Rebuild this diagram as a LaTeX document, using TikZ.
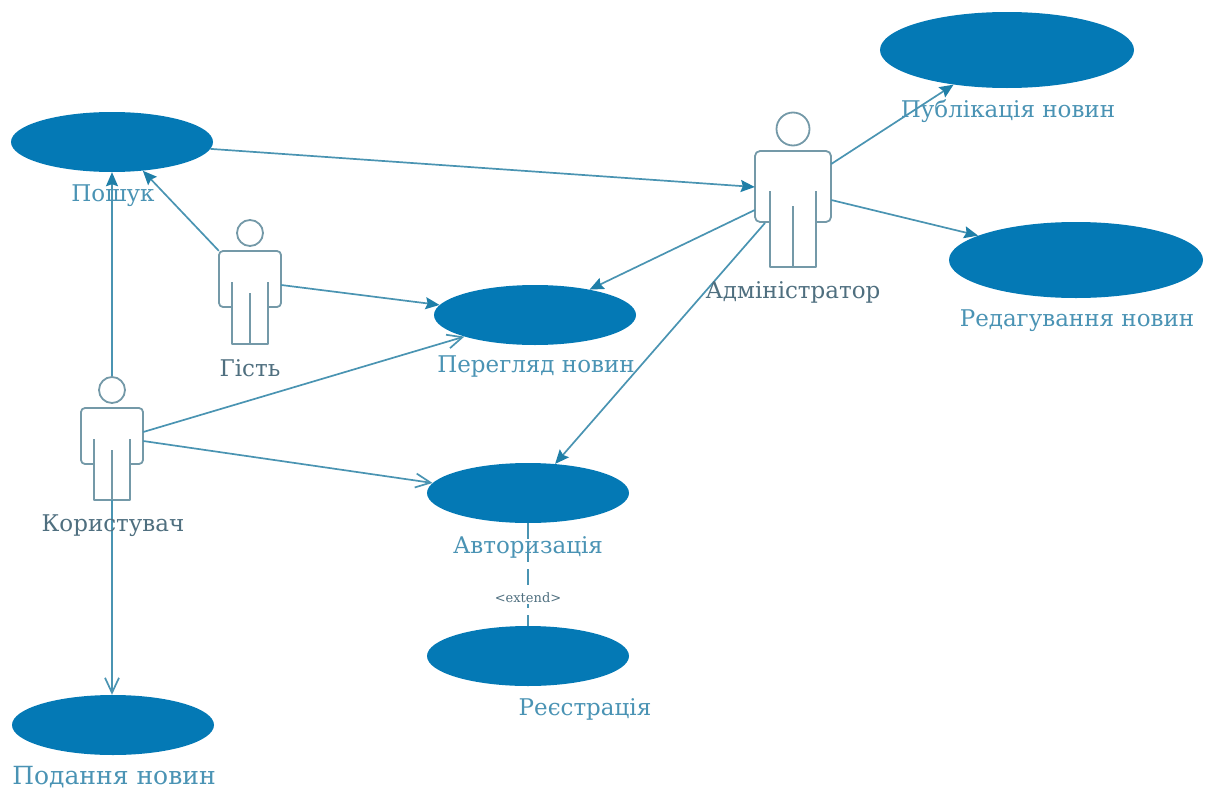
\documentclass[tikz,border=0pt]{standalone}
\usepackage{fontspec}
\setmainfont{DejaVu Serif}
\usetikzlibrary{shapes.geometric,arrows.meta}
\definecolor{ucfill}{HTML}{0479B5}
\definecolor{uctext}{HTML}{4A93B4}
\definecolor{acttext}{HTML}{4F6F7F}
\definecolor{actline}{HTML}{7499A8}
\definecolor{conn}{HTML}{4A94B2}
\definecolor{tipcol}{HTML}{1F7FA8}
\tikzset{
  usecase/.style={ellipse,fill=ucfill,draw=none,inner sep=0pt,minimum width=202pt,minimum height=60pt},
  bigcase/.style={usecase,minimum width=254pt,minimum height=76pt},
  uclabel/.style={text=uctext,font=\fontsize{23}{26}\selectfont,inner sep=0pt},
  actlabel/.style={text=acttext,font=\fontsize{23}{26}\selectfont,inner sep=0pt},
  actorbox/.style={inner sep=0pt,draw=none},
  actorline/.style={draw=actline,line width=1.8pt,line join=round},
  conn/.style={draw=conn,line width=1.7pt},
  solidtip/.style={conn,-{Stealth[length=14pt,width=12pt,inset=2pt,color=tipcol]}},
  opentip/.style={conn,-{Straight Barb[length=15pt,width=14pt]}},
}
\begin{document}
\begin{tikzpicture}[x=1pt,y=-1pt]
\useasboundingbox (0,0) rectangle (1211,790);
\node[usecase] (poshuk) at (112,142) {};
\node[usecase] (pereglyad) at (535,315) {};
\node[usecase] (avtor) at (528,493) {};
\node[usecase] (reestr) at (528,656) {};
\node[usecase] (podannya) at (113,725) {};
\node[bigcase] (publik) at (1007,50) {};
\node[bigcase] (redag) at (1076,260) {};

% actors: named box over the body, named circle as head
\node[actorbox,minimum width=62pt,minimum height=93pt] (guest) at (250,297.5) {};
\node[actorbox,minimum width=62pt,minimum height=92pt] (user) at (112,454) {};
\node[actorbox,minimum width=76pt,minimum height=116pt] (admin) at (793,209) {};
\node[circle,draw=actline,line width=1.8pt,minimum size=26pt,inner sep=0pt] (guesthead) at (250,233) {};
\node[circle,draw=actline,line width=1.8pt,minimum size=26pt,inner sep=0pt] (userhead) at (112,390) {};
\node[circle,draw=actline,line width=1.8pt,minimum size=33pt,inner sep=0pt] (adminhead) at (793,129) {};
\coordinate (adminhip) at (765,223);

\draw[actorline,rounded corners=4pt] (232,307) -- (219,307) -- (219,251) -- (281,251) -- (281,307) -- (268,307);
\draw[actorline] (232,282) -- (232,344) -- (268,344) -- (268,282) (250,293) -- (250,344);
\draw[actorline,rounded corners=4pt] (94,464) -- (81,464) -- (81,408) -- (143,408) -- (143,464) -- (130,464);
\draw[actorline] (94,439) -- (94,500) -- (130,500) -- (130,439) (112,450) -- (112,500);
\draw[actorline,rounded corners=5pt] (770,222) -- (755,222) -- (755,151) -- (831,151) -- (831,222) -- (816,222);
\draw[actorline] (770,191) -- (770,267) -- (816,267) -- (816,191) (793,206) -- (793,267);

% connectors
\draw[solidtip] (poshuk.-4.5) -- (admin.west|-0,187);
\draw[solidtip] (guest.north west) -- (poshuk.-43);
\draw[solidtip] (userhead.north) -- (userhead.north|-poshuk.south);
\draw[solidtip] (guest.east|-0,285) -- (pereglyad.174);
\draw[opentip] (user.east|-0,432) -- (pereglyad.197);
\draw[opentip] (user.east|-0,441) -- (avtor.174);
\draw[opentip] (user.south) -- (user.south|-podannya.north);
\draw[solidtip] (admin.west|-0,210) -- (pereglyad.25);
\draw[solidtip] (adminhip) -- (avtor.47);
\draw[solidtip] (admin.east|-0,164) -- (publik.-147.5);
\draw[solidtip] (admin.east|-0,200) -- (redag.166);
\draw[conn,dash pattern=on 16pt off 7pt] (avtor.south) -- (reestr.north) node[pos=0.73,fill=white,inner sep=1pt,text=acttext,font=\fontsize{13}{15}\selectfont] (ext) {<extend>};

\node[uclabel] (lposhuk) at (113,196) {Пошук};
\node[uclabel] (lpereglyad) at (536,367) {Перегляд новин};
\node[uclabel] (lavtor) at (528,547) {Авторизація};
\node[uclabel] (lreestr) at (585,709) {Реєстрація};
\node[uclabel,font=\fontsize{25}{28}\selectfont] (lpodannya) at (114,777) {Подання новин};
\node[uclabel] (lpublik) at (1008,111) {Публікація новин};
\node[uclabel] (lredag) at (1077,321) {Редагування новин};
\node[actlabel] (lguest) at (250,368) {Гість};
\node[actlabel] (luser) at (113,526) {Користувач};
\node[actlabel] (ladmin) at (793,292) {Адміністратор};
\end{tikzpicture}
\end{document}
